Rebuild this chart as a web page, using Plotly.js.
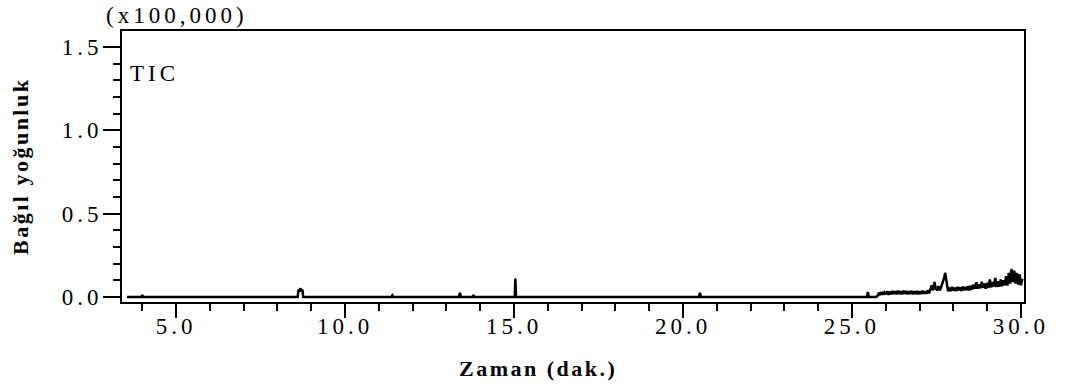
<!DOCTYPE html>
<html>
<head>
<meta charset="utf-8">
<script src="https://cdn.plot.ly/plotly-3.0.1.min.js"></script>
<style>
html,body{margin:0;padding:0;background:#fff;}
#chart{width:1069px;height:392px;}
#chart .xtick text, #chart .ytick text {letter-spacing:4px;}
#chart .annotation[data-index="0"] text, #chart .annotation[data-index="1"] text {letter-spacing:4px;}
#chart .annotation[data-index="2"] text, #chart .annotation[data-index="3"] text {letter-spacing:2.5px;}
</style>
</head>
<body>
<div id="chart"></div>
<script>
// Baseline and isolated peaks (time in min, intensity x100,000)
var peakTimes = [3.55, 3.97, 4.0, 4.03,
  8.6, 8.62, 8.64, 8.66, 8.68, 8.70, 8.72, 8.74, 8.76,
  11.37, 11.4, 11.43,
  13.37, 13.4, 13.43,
  13.77, 13.8, 13.83,
  15.02, 15.04, 15.06,
  20.47, 20.5, 20.53,
  25.44, 25.47, 25.5, 25.72];
var peakValues = [0, 0, 0.012, 0,
  0, 0.045, 0.04, 0.045, 0.04, 0.045, 0.04, 0.045, 0,
  0, 0.01, 0,
  0, 0.025, 0,
  0, 0.012, 0,
  0, 0.11, 0,
  0, 0.025, 0,
  0, 0.03, 0, 0];
// Noisy late region
var noiseTimes = [25.76,25.80,25.84,25.88,25.92,25.96,
  26.00,26.04,26.08,26.12,26.16,26.20,26.24,26.28,26.32,26.36,26.40,26.44,26.48,26.52,26.56,26.60,26.64,26.68,26.72,26.76,26.80,26.84,26.88,26.92,26.96,
  27.00,27.04,27.08,27.12,27.16,27.20,27.24,27.28,
  27.32,27.36,27.40,27.44,27.48,
  27.52,27.56,27.60,27.64,27.68,
  27.72,27.76,27.80,
  27.84,27.88,27.92,27.96,28.00,28.04,28.08,28.12,28.16,28.20,28.24,28.28,28.32,28.36,28.40,28.44,28.48,
  28.52,28.56,28.60,28.64,28.68,28.72,28.76,28.80,28.84,28.88,28.92,28.96,
  29.00,29.04,29.08,29.12,29.16,29.20,29.24,29.28,29.32,29.36,29.40,29.44,29.48,
  29.52,29.56,29.60,29.64,29.68,29.72,29.76,29.80,29.84,29.88,29.92,29.96,30.00,30.04];
var noiseValues = [0.008,0.026,0.012,0.03,0.014,0.028,
  0.016,0.034,0.014,0.032,0.016,0.036,0.018,0.034,0.016,0.038,0.018,0.034,0.016,0.038,0.02,0.036,0.016,0.034,0.018,0.037,0.016,0.034,0.018,0.036,0.016,
  0.034,0.018,0.037,0.02,0.034,0.02,0.04,0.022,
  0.045,0.07,0.04,0.09,0.05,
  0.04,0.065,0.04,0.06,0.08,
  0.11,0.145,0.085,
  0.035,0.055,0.035,0.06,0.038,0.056,0.036,0.06,0.04,0.058,0.036,0.062,0.04,0.06,0.042,0.065,0.04,
  0.068,0.045,0.075,0.05,0.088,0.05,0.075,0.052,0.092,0.055,0.08,0.05,
  0.085,0.055,0.105,0.058,0.09,0.062,0.115,0.06,0.095,0.062,0.105,0.065,0.1,
  0.07,0.125,0.068,0.145,0.08,0.168,0.09,0.158,0.08,0.145,0.075,0.135,0.07,0.11];

var xTitle = 'Zaman (dak.)';
var yTitle = 'Bağıl yoğunluk';
var scaleLabel = '(x100,000)';
var traceLabel = 'TIC';

var serif = 'Liberation Serif';

var trace = {
  x: peakTimes.concat(noiseTimes),
  y: peakValues.concat(noiseValues),
  type: 'scatter',
  mode: 'lines',
  line: {color: '#000', width: 2.5},
  hoverinfo: 'skip'
};

var layout = {
  width: 1069, height: 392,
  margin: {l: 122, r: 45, t: 31, b: 90},
  paper_bgcolor: '#fff', plot_bgcolor: '#fff',
  showlegend: false,
  font: {family: serif, color: '#000'},
  xaxis: {
    range: [3.4, 30.09],
    showgrid: false, zeroline: false,
    showline: true, linecolor: '#000', linewidth: 2, mirror: true,
    ticks: 'outside', ticklen: 14, tickwidth: 2, tickcolor: '#000',
    tick0: 0, dtick: 5, tickformat: '.1f',
    ticklabelstandoff: -12,
    minor: {ticks: 'outside', ticklen: 7, tickwidth: 2, tickcolor: '#000', dtick: 1, tick0: 0, showgrid: false},
    tickfont: {family: serif, size: 23, color: '#000'}
  },
  yaxis: {
    range: [-0.03, 1.596],
    showgrid: false, zeroline: false,
    showline: true, linecolor: '#000', linewidth: 2, mirror: true,
    ticks: 'outside', ticklen: 17, tickwidth: 2, tickcolor: '#000',
    tick0: 0, dtick: 0.5, tickformat: '.1f',
    ticklabelstandoff: -4,
    minor: {ticks: 'outside', ticklen: 7, tickwidth: 2, tickcolor: '#000', dtick: 0.1, tick0: 0, showgrid: false},
    tickfont: {family: serif, size: 23, color: '#000'}
  },
  annotations: [
    {text: scaleLabel, xref: 'paper', yref: 'paper', x: 0.061, y: 1.059, xanchor: 'center', yanchor: 'middle',
     showarrow: false, font: {family: serif, size: 23, color: '#000'}},
    {text: traceLabel, xref: 'paper', yref: 'paper', x: 0.0355, y: 0.845, xanchor: 'center', yanchor: 'middle',
     showarrow: false, font: {family: serif, size: 23, color: '#000'}},
    {text: '<b>' + xTitle + '</b>', xref: 'paper', yref: 'paper', x: 0.461, y: 0, xanchor: 'center', yanchor: 'middle', yshift: -66,
     showarrow: false, font: {family: serif, size: 22, color: '#000'}},
    {text: '<b>' + yTitle + '</b>', xref: 'paper', yref: 'paper', x: 0, y: 0.5, xanchor: 'center', yanchor: 'middle', xshift: -102, textangle: -90,
     showarrow: false, font: {family: serif, size: 22, color: '#000'}}
  ]
};

Plotly.newPlot('chart', [trace], layout, {displayModeBar: false, staticPlot: true});
</script>
</body>
</html>
